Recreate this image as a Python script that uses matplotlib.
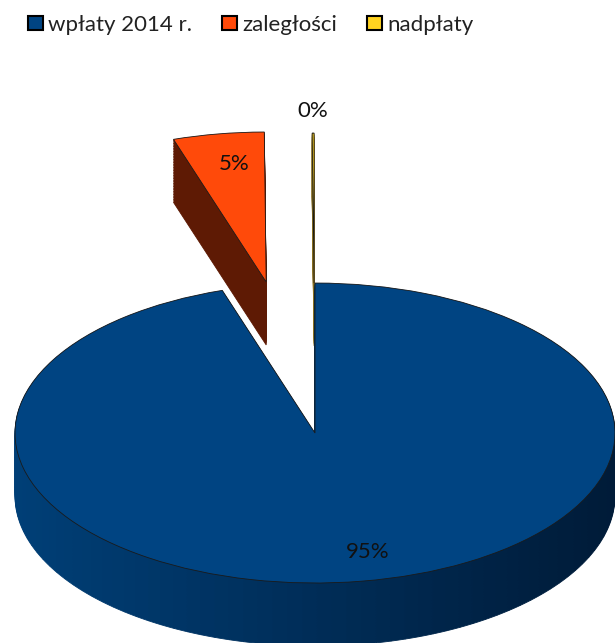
import numpy as np
import matplotlib
matplotlib.use('Agg')
import matplotlib.pyplot as plt
from matplotlib.patches import Patch
from matplotlib.colors import to_rgb

plt.rcParams['font.family'] = ['Lato', 'DejaVu Sans']

# data
categories = ['wpłaty 2014 r.', 'zaległości', 'nadpłaty']
values = [95.0, 4.9, 0.1]
explode = [0.0, 1.02, 1.0]

top_colors = ['#004482', '#FF4A0A', '#FFD320']
side_blue_left = '#003f77'
side_blue_right = '#001b38'
side_other = ['#5E1A04', '#8a7020']

depth = 0.42      # thickness of the 3D pie (in y-units)
n_layers = 40
n_split = 120     # sub-wedges for the side gradient

fig = plt.figure(figsize=(6.15, 6.43), dpi=100)
ax = fig.add_axes([0, 0, 1, 1])

# side walls: stacked pies shifted downwards
total = sum(values)
sub = [values[0] / n_split] * n_split
side_vals = sub + values[1:]
side_expl = [0.0] * n_split + explode[1:]
side_cols = []
c_left = np.array(to_rgb(side_blue_left))
c_right = np.array(to_rgb(side_blue_right))
ang = 90.0
for v in sub:
    span = v / total * 360.0
    mid = np.radians(ang - span / 2)
    t = (np.cos(mid) + 1) / 2
    side_cols.append(tuple(c_left * (1 - t) + c_right * t))
    ang -= span
side_cols += side_other

for d in np.linspace(depth, 0.005, n_layers):
    ws, _ = ax.pie(side_vals, explode=side_expl, colors=side_cols, startangle=90,
                   counterclock=False, center=(0, -d), radius=1.0,
                   wedgeprops=dict(linewidth=0.6))
    for wd in ws:
        wd.set_edgecolor(wd.get_facecolor())

# top face
wedges, texts, autotexts = ax.pie(values, explode=explode, colors=top_colors,
                                  startangle=90, counterclock=False, radius=1.0,
                                  autopct='%1.0f%%', pctdistance=0.8,
                                  wedgeprops=dict(linewidth=0.6, edgecolor='#1a1a1a'),
                                  textprops=dict(fontsize=16, color='#111111'))

# nudge labels a little to where the original puts them
autotexts[0].set_x(autotexts[0].get_position()[0] + 0.05)
autotexts[1].set_x(autotexts[1].get_position()[0] + 0.02)

# the 0% label sits above its (very thin) slice
w = wedges[2]
mid = np.radians((w.theta1 + w.theta2) / 2)
autotexts[2].set_position((w.center[0] + 1.15 * np.cos(mid), w.center[1] + 1.15 * np.sin(mid)))

ax.set_aspect('auto')
ax.set_xlim(-1.05, 1.0)
ax.set_ylim(-1.4, 2.887)
ax.axis('off')

handles = [Patch(facecolor=c, edgecolor='black', linewidth=1.5) for c in top_colors]
fig.legend(handles, categories, loc='upper center', bbox_to_anchor=(0.408, 1.008),
           ncol=3, frameon=False, fontsize=16, handlelength=0.65, handleheight=0.65,
           handletextpad=0.25, columnspacing=1.35, labelcolor='#222222')

fig.savefig('out.png', dpi=100)
